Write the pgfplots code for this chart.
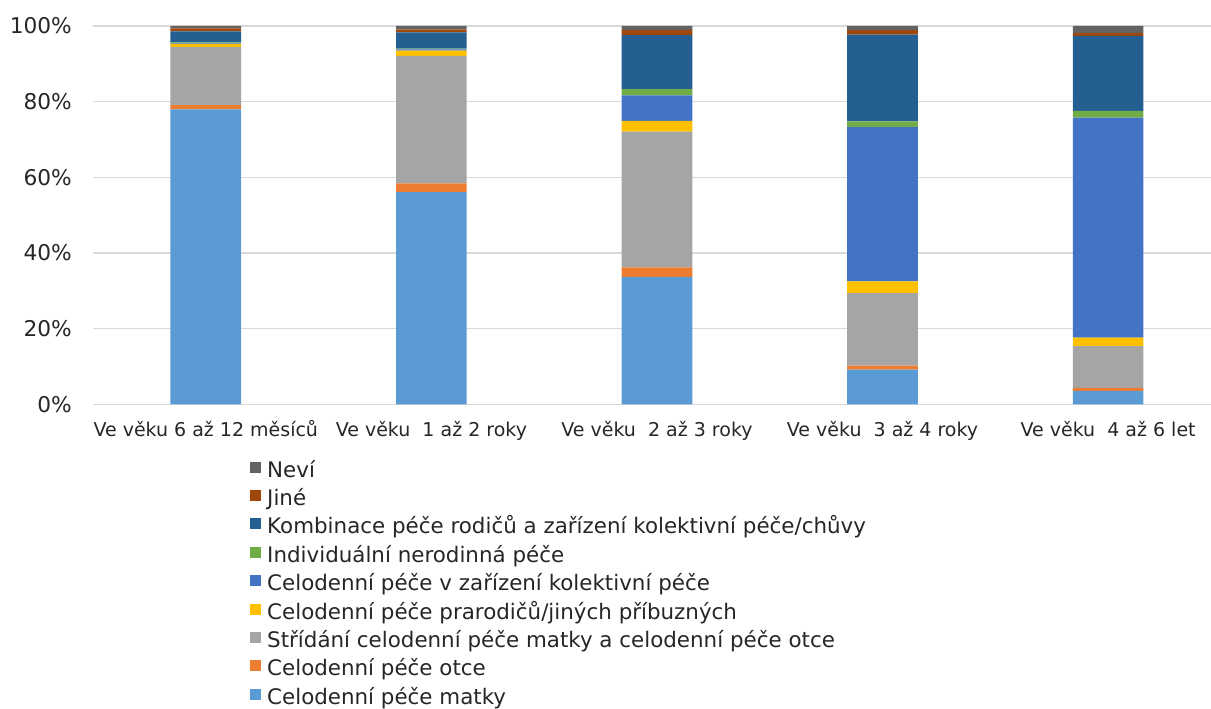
\documentclass[border=0pt]{standalone}
\usepackage{pgfplots}
\pgfplotsset{compat=1.18}
\usepackage{fontspec}
\setmainfont{DejaVu Sans}
\definecolor{cMatky}{HTML}{5B9BD5}
\definecolor{cOtce}{HTML}{ED7D31}
\definecolor{cStr}{HTML}{A5A5A5}
\definecolor{cPrar}{HTML}{FFC000}
\definecolor{cKol}{HTML}{4472C4}
\definecolor{cInd}{HTML}{70AD47}
\definecolor{cKomb}{HTML}{255E91}
\definecolor{cJine}{HTML}{9E480E}
\definecolor{cNevi}{HTML}{636363}
\begin{document}
\begin{tikzpicture}[x=1pt,y=1pt]
\path[use as bounding box] (0,0) rectangle (1211,709);
\begin{axis}[
  at={(93pt,304.5pt)}, anchor=south west,
  scale only axis, width=1128pt, height=378.5pt,
  xmin=-0.5, xmax=4.5, ymin=0, ymax=100,
  ybar stacked, bar width=70.7pt,
  xtick={0,1,2,3,4},
  xticklabels={Ve věku 6 až 12 měsíců, Ve věku\ \ 1 až 2 roky, Ve věku\ \ 2 až 3 roky, Ve věku\ \ 3 až 4 roky, Ve věku\ \ 4 až 6 let},
  ytick={0,20,40,60,80,100},
  yticklabels={0\%,20\%,40\%,60\%,80\%,100\%},
  xticklabel style={font=\fontsize{19}{22}\selectfont, anchor=base, inner sep=0pt, yshift=-32pt, text=black!85},
  yticklabel style={font=\fontsize{21.7}{25}\selectfont, anchor=east, inner sep=0pt, xshift=-21pt, text=black!85},
  ymajorgrids, grid style={draw=black!15, line width=1.3pt},
  axis line style={draw=none},
  major tick length=0pt, tick style={draw=none},
  reverse legend,
  legend cell align=left,
  legend style={at={(0.1392,-0.1505)}, anchor=north west, draw=none, fill=none,
    inner sep=0pt, row sep=8.4pt, column sep=6pt,
    font=\fontsize{21.4}{25}\selectfont,
    nodes={inner sep=0pt, text height=15.5pt, text depth=4.5pt, text=black!85}},
  legend image code/.code={\fill[#1] (0pt,-1pt) rectangle (11pt,10pt);},
]
\addplot[fill=cMatky, draw=none] coordinates {(0,78.0) (1,56.1) (2,33.7) (3,9.2) (4,3.6)};
\addplot[fill=cOtce, draw=none] coordinates {(0,1.1) (1,2.3) (2,2.5) (3,1.1) (4,0.8)};
\addplot[fill=cStr, draw=none] coordinates {(0,15.4) (1,33.7) (2,35.9) (3,19.1) (4,11.0)};
\addplot[fill=cPrar, draw=none] coordinates {(0,0.7) (1,1.4) (2,2.8) (3,3.1) (4,2.3)};
\addplot[fill=cKol, draw=none] coordinates {(0,0.2) (1,0.3) (2,6.8) (3,40.8) (4,58.1)};
\addplot[fill=cInd, draw=none] coordinates {(0,0.3) (1,0.2) (2,1.6) (3,1.5) (4,1.8)};
\addplot[fill=cKomb, draw=none] coordinates {(0,2.9) (1,4.3) (2,14.3) (3,22.9) (4,19.8)};
\addplot[fill=cJine, draw=none] coordinates {(0,0.8) (1,0.8) (2,1.4) (3,1.2) (4,0.8)};
\addplot[fill=cNevi, draw=none] coordinates {(0,0.6) (1,0.9) (2,1.0) (3,1.1) (4,1.8)};
\legend{Celodenní péče matky, Celodenní péče otce, Střídání celodenní péče matky a celodenní péče otce, Celodenní péče prarodičů/jiných příbuzných, Celodenní péče v zařízení kolektivní péče, Individuální nerodinná péče, Kombinace péče rodičů a zařízení kolektivní péče/chůvy, Jiné, Neví}
\end{axis}
\end{tikzpicture}
\end{document}
